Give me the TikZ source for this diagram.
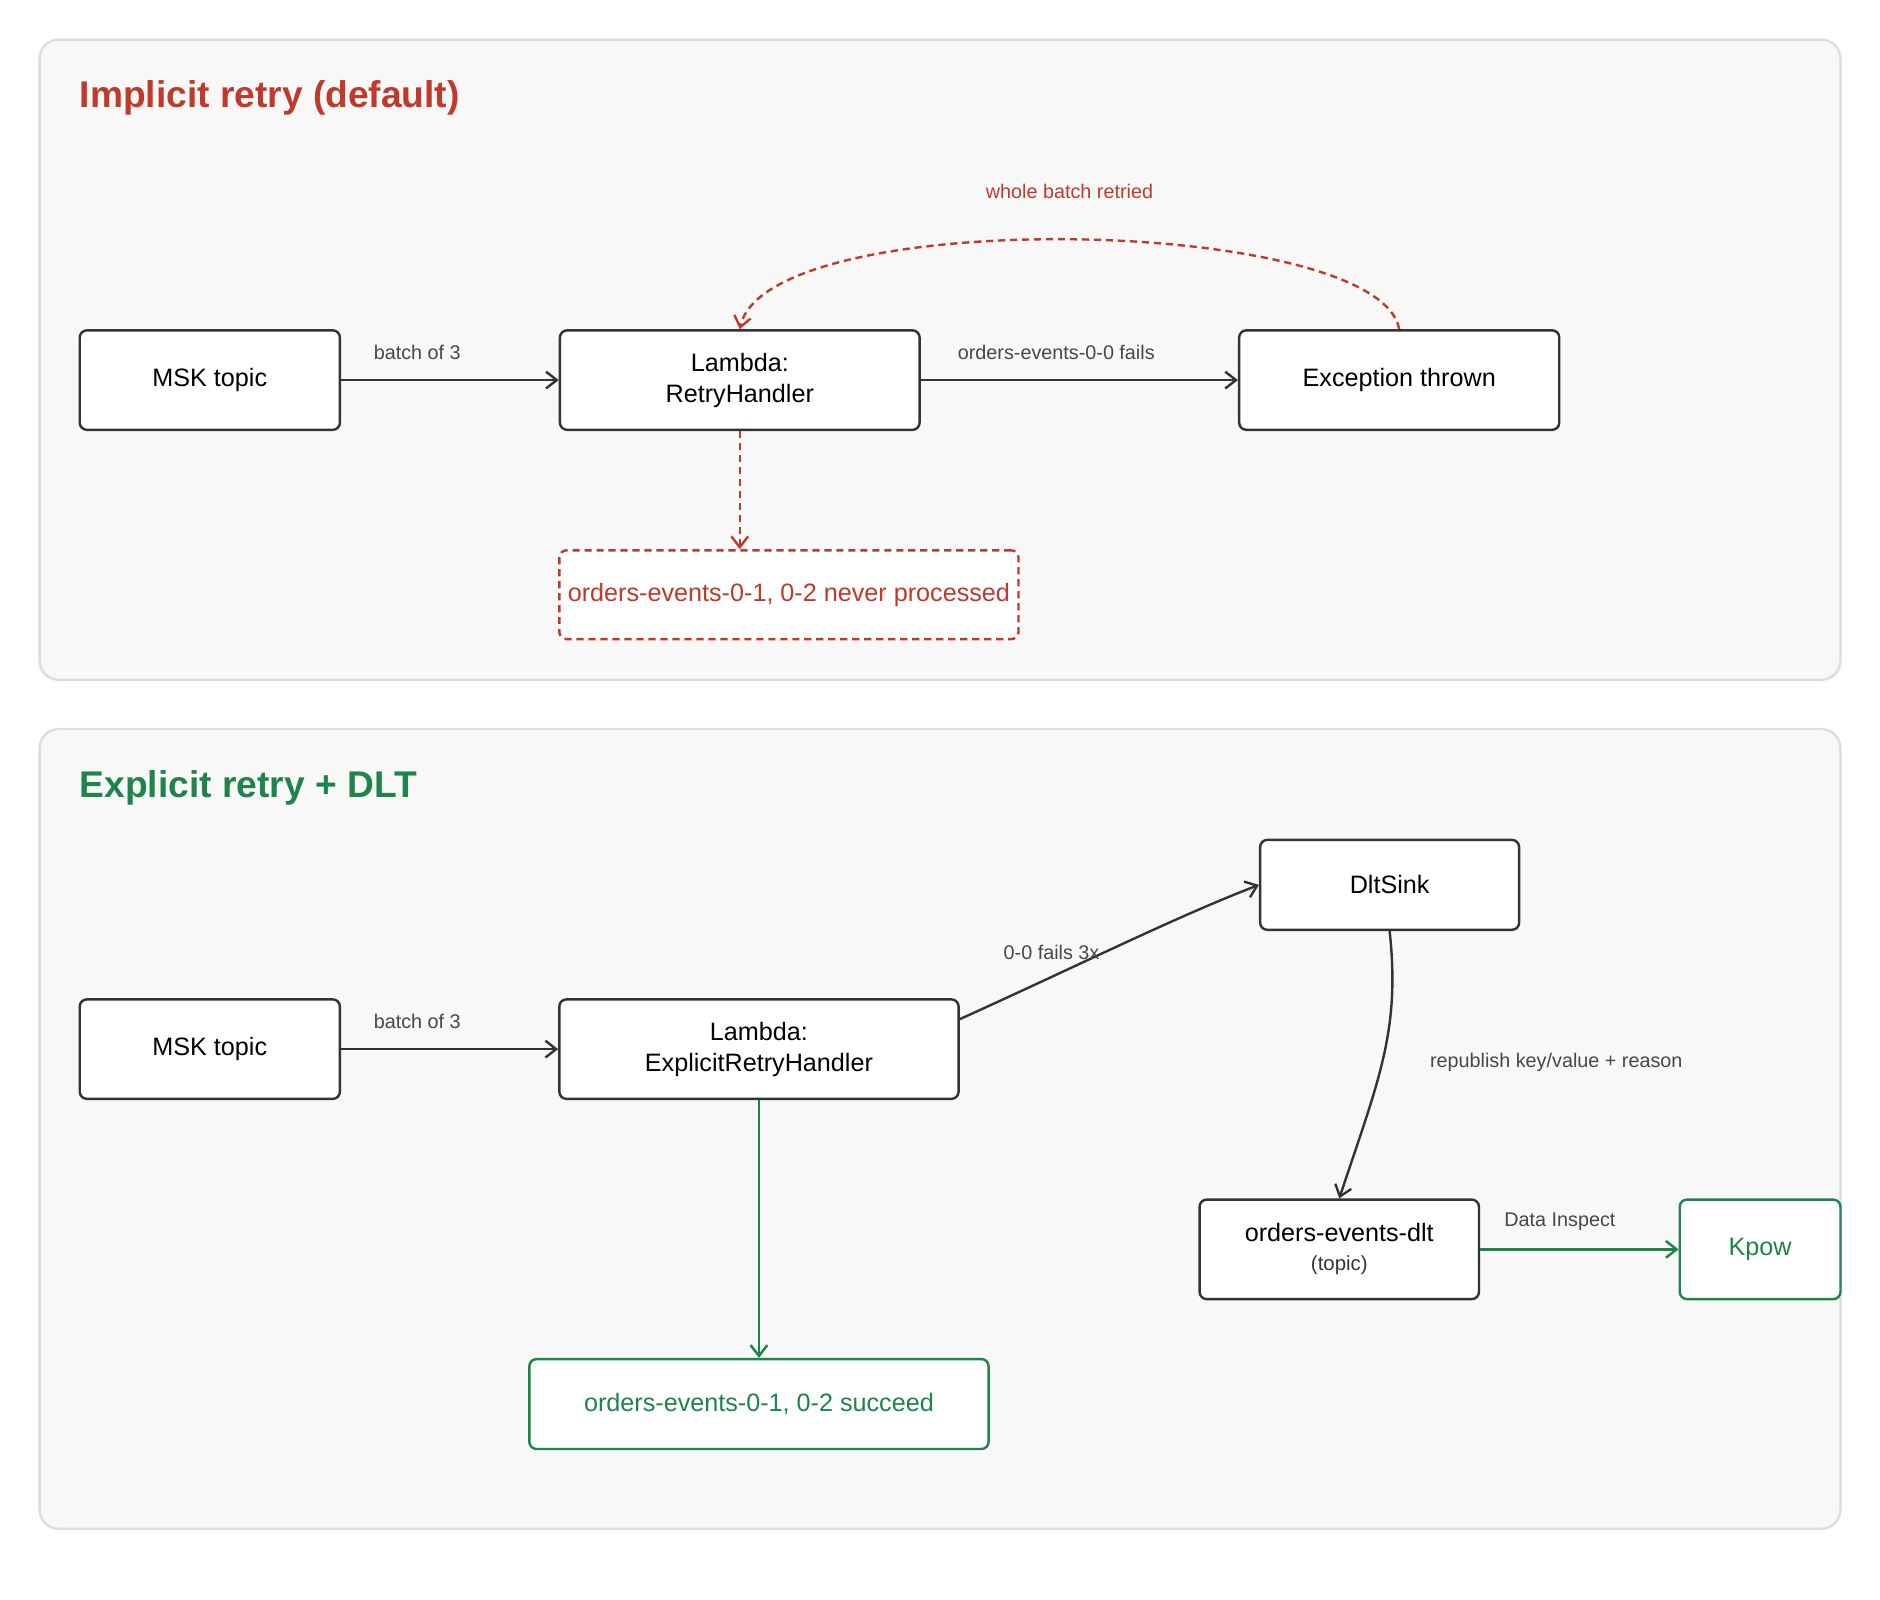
\documentclass[tikz,border=0pt]{standalone}
\usepackage{fontspec}
\setmainfont{Liberation Sans}
\usetikzlibrary{arrows.meta,positioning}
\definecolor{failred}{HTML}{C0392B}
\definecolor{okgreen}{HTML}{1E8449}
\definecolor{panelfill}{HTML}{F8F8F8}
\definecolor{panelline}{HTML}{DDDDDD}
\definecolor{ink}{HTML}{333333}
\tikzset{
  panel/.style={draw=panelline, fill=panelfill, line width=2pt, rounded corners=16pt},
  box/.style={draw=ink, fill=white, line width=2pt, rounded corners=6pt, align=center,
    font=\fontsize{21}{26}\selectfont, text=black},
  flow/.style={draw=ink, line width=2pt, -{Straight Barb[length=9pt,width=14pt]}},
  faildash/.style={dash pattern=on 6pt off 4pt},
  lbl/.style={font=\fontsize{16.5}{19}\selectfont, text=ink!90},
  title/.style={font=\fontsize{31}{36}\selectfont\bfseries, anchor=west}
}
\begin{document}
\begin{tikzpicture}[x=1pt,y=-1pt]
\useasboundingbox (0,0) rectangle (1568,1334);
% panels
\draw[panel] (33,33) rectangle (1535,567);
\draw[panel] (33,608) rectangle (1535,1275);
\node[title, text=failred] (t1) at (63,82) {Implicit retry (default)};
\node[title, text=okgreen] (t2) at (63,657) {Explicit retry + DLT};
% implicit retry
\node[box, minimum width=217pt, minimum height=83pt] (msk1) at (175,317) {MSK topic};
\node[box, minimum width=300pt, minimum height=83pt] (lam1) at (617,317) {Lambda:\\RetryHandler};
\node[box, minimum width=267pt, minimum height=83pt] (exc) at (1167,317) {Exception thrown};
\node[box, draw=failred, faildash, text=failred, minimum width=383pt, minimum height=74pt] (lost) at (658,496) {orders-events-0-1, 0-2 never processed};
\draw[flow] (msk1) -- (lam1);
\node[lbl] (b1) at (348,294) {batch of 3};
\draw[flow] (lam1) -- (exc);
\node[lbl] (f1) at (881,294) {orders-events-0-0 fails};
\draw[flow, draw=failred, faildash] (exc.north) .. controls (1150,180) and (640,170) .. (lam1.north);
\node[lbl, text=failred] (retried) at (892,160) {whole batch retried};
\draw[flow, draw=failred, faildash] (lam1.south) -- (lam1.south |- lost.north);
% explicit retry
\node[box, minimum width=217pt, minimum height=83pt] (msk2) at (175,875) {MSK topic};
\node[box, minimum width=333pt, minimum height=83pt] (lam2) at (633,875) {Lambda:\\ExplicitRetryHandler};
\node[box, minimum width=216pt, minimum height=75pt] (sink) at (1159,738) {DltSink};
\node[box, minimum width=233pt, minimum height=83pt] (dlt) at (1117,1042) {orders-events-dlt\\[-2pt]{\fontsize{17}{20}\selectfont\color{ink}(topic)}};
\node[box, draw=okgreen, text=okgreen, minimum width=134pt, minimum height=83pt] (kpow) at (1468,1042) {Kpow};
\node[box, draw=okgreen, text=okgreen, minimum width=383pt, minimum height=75pt] (ok) at (633,1171) {orders-events-0-1, 0-2 succeed};
\draw[flow] (msk2) -- (lam2);
\node[lbl] (b2) at (348,852) {batch of 3};
\draw[flow] (lam2.east |- 0,850) .. controls (900,805) and (980,765) .. (sink.west);
\node[lbl] (fails) at (877,794) {0-0 fails 3x};
\draw[flow] (sink.south) .. controls (1168,860) and (1150,900) .. (dlt.north);
\node[lbl] (repub) at (1298,886) {republish key/value + reason};
\draw[flow, draw=okgreen] (dlt) -- (kpow);
\node[lbl] (insp) at (1301,1019) {Data Inspect};
\draw[flow, draw=okgreen] (lam2) -- (ok);
\end{tikzpicture}
\end{document}
